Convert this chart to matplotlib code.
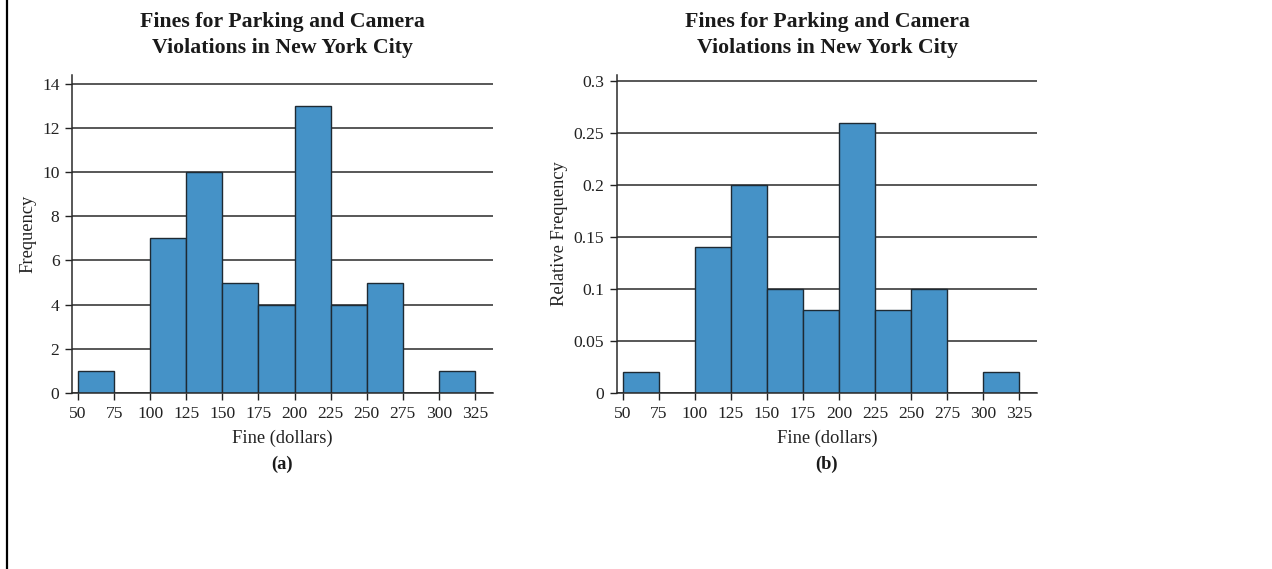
import matplotlib.pyplot as plt
import numpy as np
from matplotlib.lines import Line2D

# bin edges of the fines, $25 wide
bin_left = [50, 75, 100, 125, 150, 175, 200, 225, 250, 275, 300]
counts = [1, 0, 7, 10, 5, 4, 13, 4, 5, 0, 1]
x_ticks = [50, 75, 100, 125, 150, 175, 200, 225, 250, 275, 300, 325]
freq_ticks = [0, 2, 4, 6, 8, 10, 12, 14]
rel_ticks = [0, 0.05, 0.1, 0.15, 0.2, 0.25, 0.3]
rel_labels = ['0', '0.05', '0.1', '0.15', '0.2', '0.25', '0.3']

BAR = '#4592c7'
TITLE = 'Fines for Parking and Camera\nViolations in New York City'

plt.rcParams['font.family'] = ['Liberation Serif', 'DejaVu Serif']


def draw_hist(ax, heights, yticks, ylabels, ylim, ylabel, label_x, tag):
    ax.set_axisbelow(True)
    ax.yaxis.grid(True, color='#2a2a2a', linewidth=1.1)
    ax.bar(bin_left, heights, width=25, align='edge', color=BAR,
           edgecolor='#1e2a33', linewidth=1.0)
    ax.set_xlim(45.8, 337.5)
    ax.set_ylim(0, ylim)
    ax.set_xticks(x_ticks)
    ax.set_yticks(yticks)
    ax.set_yticklabels(ylabels)
    ax.tick_params(labelsize=12.6, colors='#222222', length=5, width=1, pad=4)
    for s in ['top', 'right']:
        ax.spines[s].set_visible(False)
    for s in ['left', 'bottom']:
        ax.spines[s].set_color('#2a2a2a')
        ax.spines[s].set_linewidth(1.1)
    ax.set_title(TITLE, fontsize=15.7, fontweight='bold', color='#1a1a1a',
                 pad=16, linespacing=1.35)
    ax.set_ylabel(ylabel, fontsize=13.3, color='#222222')
    ax.yaxis.set_label_coords(label_x, 0.5)
    ax.set_xlabel('Fine (dollars)', fontsize=13.3, color='#222222', labelpad=6)
    ax.text(0.5, -0.225, tag, transform=ax.transAxes, ha='center', va='center',
            fontsize=13.3, fontweight='bold', color='#1a1a1a')


def main():
    fig = plt.figure(figsize=(12.72, 5.69), dpi=100)
    ax1 = fig.add_axes([0.0566, 0.3093, 0.331, 0.559])
    ax2 = fig.add_axes([0.485, 0.3093, 0.3303, 0.559])

    rel = np.array(counts) / sum(counts)
    draw_hist(ax1, counts, freq_ticks, [str(t) for t in freq_ticks], 14.4,
              'Frequency', -0.0855, '(a)')
    draw_hist(ax2, rel, rel_ticks, rel_labels, 0.306,
              'Relative Frequency', -0.117, '(b)')

    fig.add_artist(Line2D([0.0055, 0.0055], [0, 1], color='black',
                          linewidth=1.6, transform=fig.transFigure))
    fig.savefig('out.png', dpi=100)


if __name__ == '__main__':
    main()
